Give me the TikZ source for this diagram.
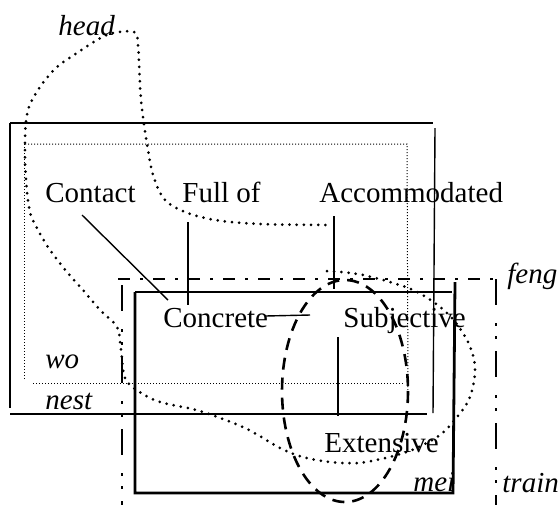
\documentclass[tikz,border=0pt]{standalone}
\usepackage{fontspec}
\setmainfont{Liberation Serif}
\tikzset{
  set line/.style={draw=black, line width=0.7pt},
  set dots/.style={draw=black, line width=0.5pt, dash pattern=on 0.5pt off 1pt},
  set chain/.style={draw=black, line width=1.3pt,
    dash pattern=on 6pt off 5pt on 1.5pt off 5pt},
  set chain long/.style={draw=black, line width=1.3pt,
    dash pattern=on 13pt off 9pt on 1.5pt off 5pt on 1.5pt off 6pt},
  set frame/.style={draw=black, line width=1.4pt},
  set oval/.style={draw=black, line width=1.3pt, dash pattern=on 6pt off 4pt},
  set trail/.style={draw=black, line width=1.5pt, line cap=round,
    dash pattern=on 0pt off 3.6pt},
  term label/.style={anchor=base west, inner sep=0pt,
    font=\fontsize{14.5}{17}\selectfont},
  set label/.style={term label, font=\fontsize{14.5}{17}\selectfont\itshape},
}

\begin{document}
\begin{tikzpicture}[x=0.5pt, y=-0.5pt]
  \useasboundingbox (0,0) rectangle (560,505);

  % nest: open solid frame, drawn side by side
  \draw[set line] (10,123) -- (433,123);
  \draw[set line] (435,128) -- (433,413);
  \draw[set line] (10,414) -- (427,414);
  \draw[set line] (10,123) -- (10,408);

  % wo: dotted frame inside it
  \draw[set dots] (25,144) -- (407,144) -- (408,393);
  \draw[set dots] (24,144) -- (24,379);
  \draw[set dots] (33,383) -- (403,383);

  % feng / train: dash-dot frame, open at the bottom
  \draw[set chain] (118,279) -- (496,279);
  \draw[set chain long] (122,285) -- (122,505);
  \draw[set chain long] (496,279) -- (496,505);

  % mei: heavy frame
  \draw[set frame] (135,292) -- (452,292);
  \draw[set frame] (455,282) -- (453,493) -- (135,493) -- (135,292);

  % dashed oval
  \draw[set oval] (345,391) ellipse [x radius=63, y radius=111];

  % head: dotted loop, left open under Accommodated
  \draw[set trail] plot[smooth, tension=0.55] coordinates {
    (327,271) (363,275) (413,290) (447,313) (467,340) (475,367)
    (470,397) (457,417) (440,435) (412,450) (385,458) (358,463)
    (330,462) (303,457) (280,448) (245,428) (200,411) (160,402)
    (138,391) (125,378) (121,350) (117,327) (100,310) (83,290)
    (67,272) (50,250) (38,230) (30,212) (26,180) (25,140) (28,110)
    (40,87) (57,67) (77,53) (97,40) (113,33) (134,32) (138,45)
    (141,100) (148,150) (154,178) (165,200) (185,212) (215,220)
    (260,224) (327,225)};

  % terms
  \node[term label] (contact) at (45,202) {Contact};
  \node[term label] (fullof) at (182,202) {Full of};
  \node[term label] (accom) at (319,202) {Accommodated};
  \node[term label] (concrete) at (163,327) {Concrete};
  \node[term label] (subjective) at (343,327) {Subjective};
  \node[term label] (extensive) at (324,452) {Extensive};

  % set names
  \node[set label] (head) at (58,35) {head};
  \node[set label] (wo) at (45,368) {wo};
  \node[set label] (nest) at (45,409) {nest};
  \node[set label] (feng) at (507,283) {feng};
  \node[set label] (train) at (502,492) {train};
  \node[set label] (mei) at (413,491) {mei};

  % free ends
  \coordinate (accom end) at (334,289);
  \coordinate (oval edge) at (310,315);

  % connectors
  \draw[set line] ([shift={(37,13)}]contact.base west)
    -- ([shift={(5,-27)}]concrete.base west);
  \draw[set line] ([shift={(6,20)}]fullof.base west)
    -- ([shift={(25,-22)}]concrete.base west);
  \draw[set line] ([shift={(15,14)}]accom.base west) -- (accom end);
  \draw[set line] ([shift={(102,-11)}]concrete.base west) -- (oval edge);
  \draw[set line] ([shift={(-5,10)}]subjective.base west)
    -- ([shift={(14,-36)}]extensive.base west);
\end{tikzpicture}
\end{document}
